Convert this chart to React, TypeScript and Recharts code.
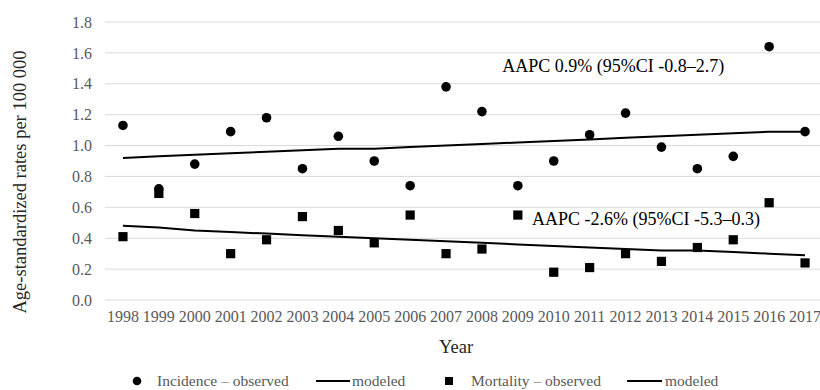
import {
  CartesianGrid,
  ComposedChart,
  Label,
  Legend,
  Line,
  ReferenceDot,
  XAxis,
  YAxis,
} from 'recharts';

const FONT = '"Liberation Serif", "Times New Roman", serif';
const TICK_GRAY = '#595959';

const years = [
  1998, 1999, 2000, 2001, 2002, 2003, 2004, 2005, 2006, 2007, 2008, 2009, 2010, 2011, 2012,
  2013, 2014, 2015, 2016, 2017,
];
const incidenceObserved = [
  1.13, 0.72, 0.88, 1.09, 1.18, 0.85, 1.06, 0.9, 0.74, 1.38, 1.22, 0.74, 0.9, 1.07, 1.21, 0.99,
  0.85, 0.93, 1.64, 1.09,
];
const incidenceModeled = [
  0.92, 0.93, 0.94, 0.95, 0.96, 0.97, 0.98, 0.98, 0.99, 1.0, 1.01, 1.02, 1.03, 1.04, 1.05, 1.06,
  1.07, 1.08, 1.09, 1.09,
];
const mortalityObserved = [
  0.41, 0.69, 0.56, 0.3, 0.39, 0.54, 0.45, 0.37, 0.55, 0.3, 0.33, 0.55, 0.18, 0.21, 0.3, 0.25,
  0.34, 0.39, 0.63, 0.24,
];
const mortalityModeled = [
  0.48, 0.47, 0.45, 0.44, 0.43, 0.42, 0.41, 0.4, 0.39, 0.38, 0.37, 0.36, 0.35, 0.34, 0.33, 0.32,
  0.32, 0.31, 0.3, 0.29,
];
const yTicks = [0, 0.2, 0.4, 0.6, 0.8, 1.0, 1.2, 1.4, 1.6, 1.8];

const incidenceNote = { year: 2011.66, value: 1.515, text: 'AAPC 0.9% (95%CI -0.8–2.7)' };
const mortalityNote = { year: 2012.57, value: 0.525, text: 'AAPC -2.6% (95%CI -5.3–0.3)' };

const data = years.map((year, i) => ({
  year,
  incObs: incidenceObserved[i],
  incMod: incidenceModeled[i],
  morObs: mortalityObserved[i],
  morMod: mortalityModeled[i],
}));

function CircleDot(props: any) {
  const { cx, cy, index } = props;
  if (cx == null || cy == null) return null;
  return <circle key={`c-${index}`} cx={cx} cy={cy} r={4.8} fill="#000" />;
}

function SquareDot(props: any) {
  const { cx, cy, index } = props;
  if (cx == null || cy == null) return null;
  return <rect key={`s-${index}`} x={cx - 4.6} y={cy - 4.6} width={9.2} height={9.2} fill="#000" />;
}

function LegendRow() {
  const textStyle = { fontFamily: FONT, fontSize: 15.5 };
  return (
    <svg width={823} height={30} style={{ display: 'block' }}>
      <circle cx={137} cy={21} r={4.3} fill="#000" />
      <text x={157} y={21} dy="0.35em" fill={TICK_GRAY} style={textStyle}>
        Incidence – observed
      </text>
      <line x1={316} x2={350} y1={21} y2={21} stroke="#000" strokeWidth={2} />
      <text x={352} y={21} dy="0.35em" fill={TICK_GRAY} style={textStyle}>
        modeled
      </text>
      <rect x={445} y={17} width={8} height={8} fill="#000" />
      <text x={471} y={21} dy="0.35em" fill={TICK_GRAY} style={textStyle}>
        Mortality – observed
      </text>
      <line x1={627} x2={662} y1={21} y2={21} stroke="#000" strokeWidth={2} />
      <text x={665} y={21} dy="0.35em" fill={TICK_GRAY} style={textStyle}>
        modeled
      </text>
    </svg>
  );
}

export default function App() {
  return (
    <div
      style={{
        position: 'absolute',
        left: 0,
        top: 0,
        width: 820,
        height: 390,
        overflow: 'hidden',
        background: '#fff',
        fontFamily: FONT,
      }}
    >
      <ComposedChart
        width={823}
        height={390}
        data={data}
        margin={{ top: 22, right: 0, bottom: 0, left: 0 }}
        style={{ fontFamily: FONT }}
      >
        <CartesianGrid vertical={false} stroke="#d9d9d9" strokeWidth={1} />
        <XAxis
          type="number"
          dataKey="year"
          domain={[1997.5, 2017.5]}
          ticks={years}
          interval={0}
          axisLine={false}
          tickLine={false}
          tickSize={0}
          tickMargin={11}
          height={60}
          tick={{ fontSize: 16, fill: TICK_GRAY, style: { fontFamily: FONT } }}
        >
          <Label
            content={({ viewBox }: any) => (
              <text
                x={viewBox.x + viewBox.width / 2 - 8}
                y={viewBox.y + 47}
                dy="0.35em"
                textAnchor="middle"
                fill="#262626"
                style={{ fontFamily: FONT, fontSize: 18.5 }}
              >
                Year
              </text>
            )}
          />
        </XAxis>
        <YAxis
          domain={[0, 1.8]}
          ticks={yTicks}
          width={105}
          axisLine={false}
          tickLine={false}
          tickSize={0}
          tickMargin={13}
          tickFormatter={(v: number) => v.toFixed(1)}
          tick={{ fontSize: 16, fill: TICK_GRAY, style: { fontFamily: FONT } }}
        >
          <Label
            content={({ viewBox }: any) => {
              const x = viewBox.x + 20;
              const y = viewBox.y + viewBox.height / 2 + 21;
              return (
                <text
                  x={x}
                  y={y}
                  dy="0.35em"
                  textAnchor="middle"
                  transform={`rotate(-90 ${x} ${y})`}
                  fill="#262626"
                  style={{ fontFamily: FONT, fontSize: 18.5 }}
                >
                  Age-standardized rates per 100 000
                </text>
              );
            }}
          />
        </YAxis>
        <Legend verticalAlign="bottom" height={30} content={() => <LegendRow />} />
        <Line
          dataKey="incMod"
          stroke="#000"
          strokeWidth={2}
          dot={false}
          activeDot={false}
          type="linear"
          isAnimationActive={false}
        />
        <Line
          dataKey="morMod"
          stroke="#000"
          strokeWidth={2}
          dot={false}
          activeDot={false}
          type="linear"
          isAnimationActive={false}
        />
        <Line
          dataKey="incObs"
          stroke="none"
          dot={CircleDot}
          activeDot={false}
          isAnimationActive={false}
        />
        <Line
          dataKey="morObs"
          stroke="none"
          dot={SquareDot}
          activeDot={false}
          isAnimationActive={false}
        />
        <ReferenceDot
          x={incidenceNote.year}
          y={incidenceNote.value}
          r={0}
          stroke="none"
          label={{
            value: incidenceNote.text,
            position: 'center',
            fontSize: 18,
            fill: '#000',
            style: { fontFamily: FONT },
          }}
        />
        <ReferenceDot
          x={mortalityNote.year}
          y={mortalityNote.value}
          r={0}
          stroke="none"
          label={{
            value: mortalityNote.text,
            position: 'center',
            fontSize: 18,
            fill: '#000',
            style: { fontFamily: FONT },
          }}
        />
      </ComposedChart>
    </div>
  );
}
